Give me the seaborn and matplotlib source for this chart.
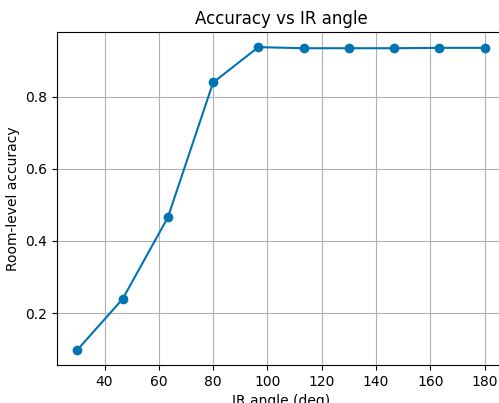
import numpy as np
import matplotlib
matplotlib.use("Agg")
import matplotlib.pyplot as plt
import seaborn as sns
import pandas as pd

# Data
ir_angle = [30.0, 46.67, 63.33, 80.0, 96.67, 113.33, 130.0, 146.67, 163.33, 180.0]
accuracy = [0.098, 0.239, 0.465, 0.839, 0.937, 0.934, 0.934, 0.934, 0.935, 0.935]

df = pd.DataFrame({"IR angle (deg)": ir_angle, "Room-level accuracy": accuracy})

sns.set_palette("colorblind")

fig = plt.figure(figsize=(4.99, 4.03), dpi=100)
ax = fig.add_axes([57 / 499, 38 / 403, 448 / 499, 333 / 403])

sns.lineplot(data=df, x="IR angle (deg)", y="Room-level accuracy",
             marker="o", markersize=7, markeredgewidth=0, linewidth=1.5, ax=ax)

ax.grid(True, color="#b0b0b0", linewidth=0.8)
ax.set_axisbelow(True)
ax.set_xticks([40, 60, 80, 100, 120, 140, 160, 180])
ax.set_yticks([0.2, 0.4, 0.6, 0.8])
ax.set_title("Accuracy vs IR angle")

fig.savefig("out.png", dpi=100)
